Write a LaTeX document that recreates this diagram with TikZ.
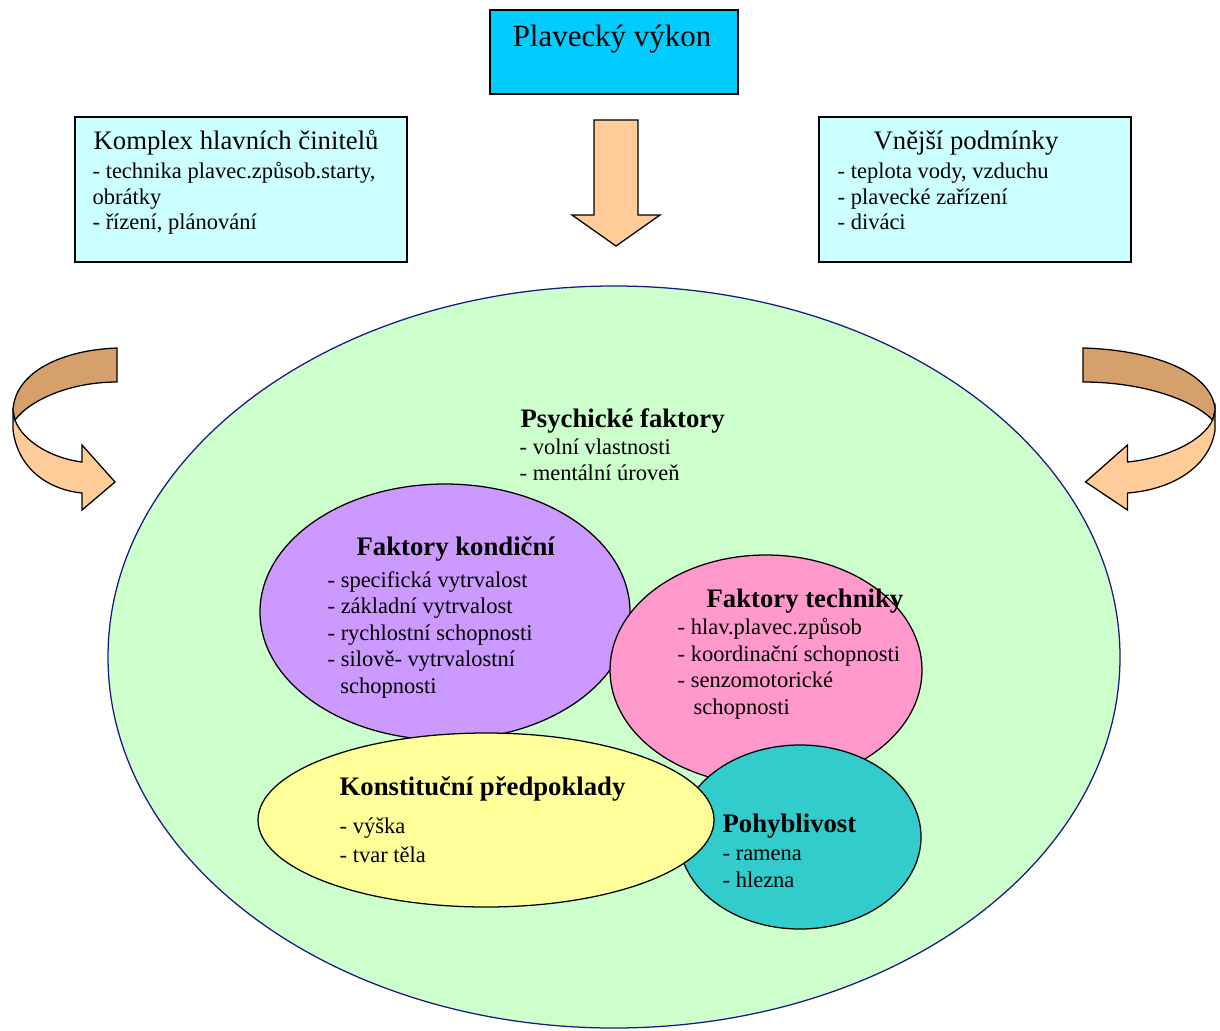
\documentclass[tikz,border=0pt]{standalone}
\usepackage{fontspec}
\setmainfont{Liberation Serif}
\definecolor{azur}{HTML}{00CCFF}
\definecolor{svetlemodra}{HTML}{CCFFFF}
\definecolor{oranz}{HTML}{FFCC99}
\definecolor{tmavoranz}{HTML}{D6A06C}
\definecolor{zelena}{HTML}{CCFFCC}
\definecolor{fialova}{HTML}{CC99FF}
\definecolor{ruzova}{HTML}{FF99CC}
\definecolor{zluta}{HTML}{FFFF99}
\definecolor{tyrkys}{HTML}{33CCCC}
\definecolor{okraj}{HTML}{1A1A80}
\tikzset{
  kruhsipka/.pic={
    \filldraw[fill=oranz] (-104,60) -- (-104,82) .. controls (-99,122) and (-67,142) .. (-35,145)
      -- (-35,162) -- (-2,134) -- (-35,97) -- (-35,114) .. controls (-67,110) and (-95,92) .. (-102,72) -- cycle;
    \filldraw[fill=tmavoranz] (0,0) .. controls (-55,2) and (-102,24) .. (-104,62)
      -- (-102,72) .. controls (-87,52) and (-47,34) .. (0,34) -- cycle;
  }
}
\begin{document}
\begin{tikzpicture}[x=0.025cm,y=-0.025cm,line width=0.9pt,
    titul/.style={font=\fontsize{22}{26}\selectfont,inner sep=0},
    hlava/.style={font=\fontsize{19}{22}\selectfont,inner sep=0,anchor=base west},
    nadpis/.style={font=\bfseries\fontsize{19}{22}\selectfont,inner sep=0,anchor=base west},
    polozky/.style={font=\fontsize{16}{18.8}\selectfont,align=left,inner sep=0,anchor=base west}]
		\useasboundingbox (0,0) rectangle (1220,1030);
		
		% horní rámečky
		\filldraw[fill=azur,line width=1.2pt] (490,10) rectangle (738,94);
		\node[titul,anchor=base] (vykon) at (612,47) {Plavecký výkon};
		
		\filldraw[fill=svetlemodra,line width=1.2pt] (75,117) rectangle (407,262);
		\node[hlava] (komplex) at (93,150) {Komplex hlavních činitelů};
		\node[polozky,font=\fontsize{16}{18.4}\selectfont] (komplexpol) at (92,230)
		  {- technika plavec.způsob.starty,\\obrátky\\- řízení, plánování};
		
		\filldraw[fill=svetlemodra,line width=1.2pt] (819,117) rectangle (1131,262);
		\node[hlava,anchor=base] (podminky) at (966,150) {Vnější podmínky};
		\node[polozky,font=\fontsize{16}{18.4}\selectfont] (podminkypol) at (837,230)
		  {- teplota vody, vzduchu\\- plavecké zařízení\\- diváci};
		
		% šipky
		\filldraw[fill=oranz] (594,120) -- (638,120) -- (638,215) -- (660,215) -- (616,246)
		  -- (572,215) -- (594,215) -- cycle;
		\pic at (117,348) {kruhsipka};
		\pic[xscale=-1.27] at (1083,348) {kruhsipka};
		
		% elipsy
		\filldraw[fill=zelena,draw=okraj] (614,657) ellipse [x radius=506,y radius=371];
		\filldraw[fill=fialova] (445,612) ellipse [x radius=185,y radius=128];
		\filldraw[fill=ruzova] (766,670) ellipse [x radius=156,y radius=115];
		\filldraw[fill=tyrkys] (800,837) ellipse [x radius=121,y radius=92];
		\filldraw[fill=zluta] (486,820) ellipse [x radius=228,y radius=87];
		
		% texty v elipsách
		\node[nadpis] (psych) at (520,427) {Psychické faktory};
		\node[polozky,font=\fontsize{16}{17.8}\selectfont] (psychpol) at (519,480)
		  {- volní vlastnosti\\- mentální úroveň};
		
		\node[nadpis] (kond) at (356,555) {Faktory kondiční};
		\node[polozky] (kondpol) at (327,693)
		  {- specifická vytrvalost\\- základní vytrvalost\\- rychlostní schopnosti\\- silově- vytrvalostní\\\hspace*{0.32cm}schopnosti};
		
		\node[nadpis] (tech) at (706,607) {Faktory techniky};
		\node[polozky] (techpol) at (677,714)
		  {- hlav.plavec.způsob\\- koordinační schopnosti\\- senzomotorické\\\hspace*{0.4cm}schopnosti};
		
		\node[nadpis] (konst) at (339,795) {Konstituční předpoklady};
		\node[polozky,font=\fontsize{16}{20.5}\selectfont] (konstpol) at (339,862)
		  {- výška\\- tvar těla};
		
		\node[nadpis] (pohyb) at (722,832) {Pohyblivost};
		\node[polozky] (pohybpol) at (722,887)
		  {- ramena\\- hlezna};
	\end{tikzpicture}
\end{document}
